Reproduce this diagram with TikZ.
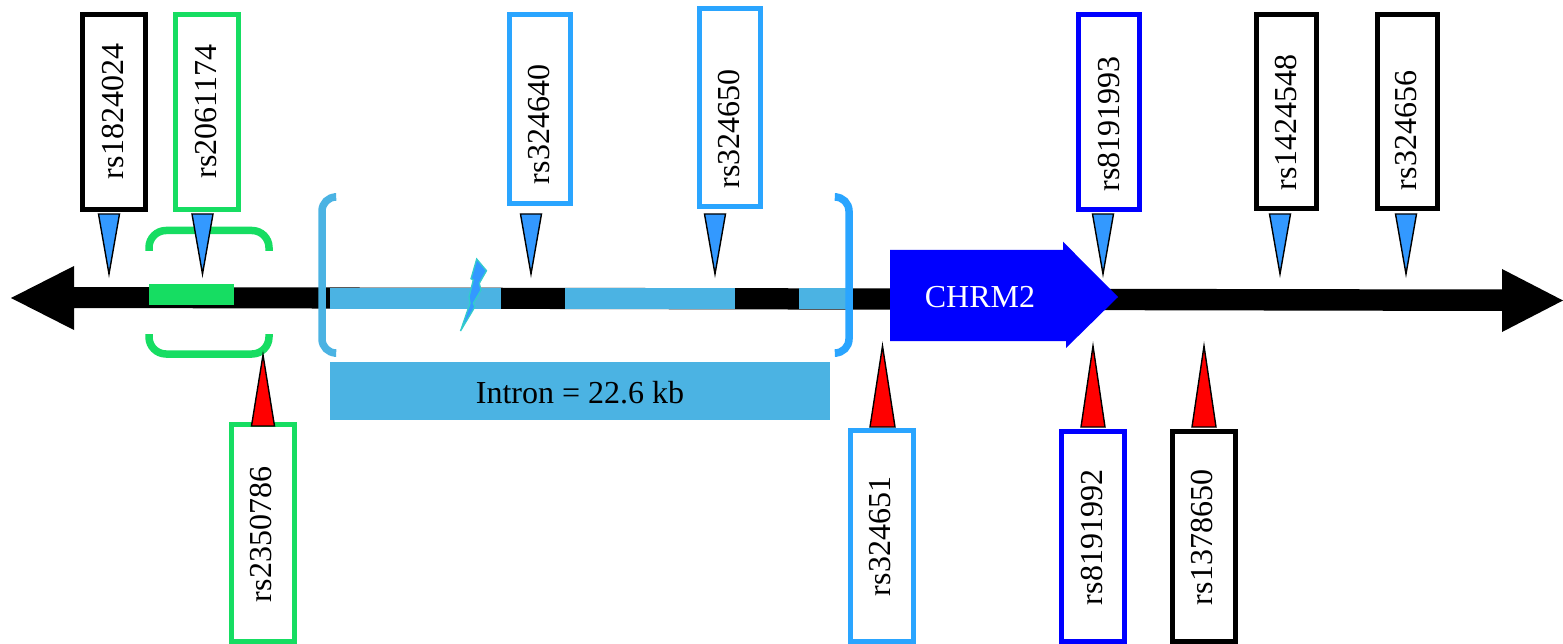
\documentclass[tikz,border=0pt]{standalone}
\usepackage{fontspec}
\setmainfont{Liberation Serif}
\definecolor{snpgreen}{HTML}{16DD62}
\definecolor{snplight}{HTML}{2AA5FF}
\definecolor{snpblue}{HTML}{0000FF}
\definecolor{intron}{HTML}{4BB3E3}
\definecolor{pinblue}{HTML}{3399FF}
\definecolor{boltedge}{HTML}{33CCCC}
\tikzset{
  snpbox/.style={draw=#1,line width=5pt,fill=white,rectangle,inner sep=0pt,outer sep=0pt},
  snplabel/.style={rotate=90,inner sep=0pt,font=\fontsize{32}{36}\selectfont},
  pintop/.style={draw=black,line width=1.4pt,fill=pinblue,miter limit=20},
  pinbottom/.style={draw=black,line width=1.4pt,fill=red,miter limit=20},
  brace/.style={line width=7.5pt,rounded corners=17pt},
  introbar/.style={fill=intron}
}
\begin{document}
\begin{tikzpicture}[x=1pt,y=-1pt]
\useasboundingbox (0,0) rectangle (1563,644);
\clip (0,0) rectangle (1563,644);
% main line
\fill[black] (11,298) -- (74,266) -- (74,287) -- (1502,289.5) -- (1502,269) -- (1563,300.5) -- (1502,332) -- (1502,311) -- (74,308) -- (74,330) -- cycle;
% coloured stretches
\fill[snpgreen] (148.5,284) rectangle (234,305);
\fill[introbar] (330,288) rectangle (501,309);
\fill[introbar] (565,288) rectangle (735,309);
\fill[introbar] (799,288) rectangle (848,309);
% brackets
\draw[brace,snpgreen] (149,251) -- (149,230.5) -- (269,230.5) -- (269,251);
\draw[brace,snpgreen] (149,334) -- (149,354) -- (269,354) -- (269,334);
\draw[brace,rounded corners=14pt,intron] (334,197) -- (322,197) -- (322,353) -- (334,353);
\draw[brace,rounded corners=14pt,snplight] (837,197) -- (849,197) -- (849,353) -- (837,353);
% intron label
\node[fill=intron,minimum width=500pt,minimum height=58pt,inner sep=0pt] (intronbox) at (580,391) {};
\node[inner sep=0pt,font=\fontsize{32}{36}\selectfont] (introntext) at (580,392.5) {Intron = 22.6 kb};
% gene arrow
\fill[snpblue] (890,250) -- (1063,250) -- (1063,241.7) -- (1118,297) -- (1066,348) -- (1066,341) -- (890,341) -- cycle;
\node[text=white,inner sep=0pt,font=\fontsize{32}{36}\selectfont] (gene) at (980,297) {CHRM2};
% bolt
\draw[fill=pinblue,draw=boltedge,line width=1.3pt,miter limit=4] (476.7,259) -- (486.5,270.7) -- (479.3,283.3) -- (481,290) -- (473.3,303.3) -- (475,306.7) -- (460.5,331) -- (470,303.3) -- (469,296.7) -- (473.3,280) -- (471,278.7) -- cycle;
% top boxes
\node[snpbox=black,minimum width=63pt,minimum height=195pt] (b1) at (113.5,112) {};
\node[snplabel] (t1) at (113,111.5) {rs1824024};
\node[snpbox=snpgreen,minimum width=63pt,minimum height=195pt] (b2) at (207,112) {};
\node[snplabel] (t2) at (206,111.5) {rs2061174};
\node[snpbox=snplight,minimum width=61pt,minimum height=189pt] (b3) at (539.5,109) {};
\node[snplabel] (t3) at (539,124.5) {rs324640};
\node[snpbox=snplight,minimum width=61pt,minimum height=198pt] (b4) at (729.5,107.5) {};
\node[snplabel] (t4) at (729,129) {rs324650};
\node[snpbox=snpblue,minimum width=61pt,minimum height=195pt] (b5) at (1109,112) {};
\node[snplabel] (t5) at (1109,124) {rs8191993};
\node[snpbox=black,minimum width=60pt,minimum height=194pt] (b6) at (1286,112) {};
\node[snplabel] (t6) at (1286,122.5) {rs1424548};
\node[snpbox=black,minimum width=60pt,minimum height=194pt] (b7) at (1407,112) {};
\node[snplabel] (t7) at (1406,130.5) {rs324656};
% bottom boxes
\node[snpbox=snpgreen,minimum width=63pt,minimum height=217pt] (b8) at (263,533) {};
\node[snplabel] (t8) at (261,534.5) {rs2350786};
\node[snpbox=snplight,minimum width=63pt,minimum height=211pt] (b9) at (882.3,536) {};
\node[snplabel] (t9) at (880,536.5) {rs324651};
\node[snpbox=snpblue,minimum width=63pt,minimum height=210pt] (b10) at (1093,536.7) {};
\node[snplabel] (t10) at (1092,537.5) {rs8191992};
\node[snpbox=black,minimum width=63pt,minimum height=210pt] (b11) at (1204,536.7) {};
\node[snplabel] (t11) at (1202,537.5) {rs1378650};
% pins
\draw[pintop] (98.5,214) -- (119.5,214) -- (109,274) -- cycle;
\draw[pintop] (192,214) -- (213,214) -- (202.5,274) -- cycle;
\draw[pintop] (520.5,214) -- (541.5,214) -- (531,274) -- cycle;
\draw[pintop] (704.5,214) -- (725.5,214) -- (715,274) -- cycle;
\draw[pintop] (1092.5,214) -- (1113.5,214) -- (1103,274) -- cycle;
\draw[pintop] (1269.5,214) -- (1290.5,214) -- (1280,274) -- cycle;
\draw[pintop] (1395.5,214) -- (1416.5,214) -- (1406,274) -- cycle;
\draw[pinbottom] (251.5,426) -- (274.5,426) -- (263,355) -- cycle;
\draw[pinbottom] (870,427) -- (895,427) -- (882.5,346) -- cycle;
\draw[pinbottom] (1081,427) -- (1105,427) -- (1093,346) -- cycle;
\draw[pinbottom] (1192,427) -- (1216,427) -- (1204,346) -- cycle;
\end{tikzpicture}
\end{document}
